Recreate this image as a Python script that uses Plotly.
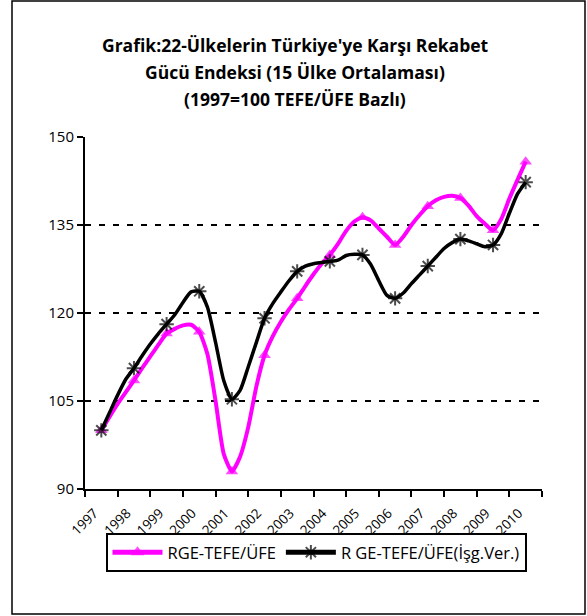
import plotly.graph_objects as go

years = [str(y) for y in range(1997, 2011)]

# quarterly values (first point of each year is the annual marker)
rge_tefe = [100, 102.3, 104.5, 106.5,
            108.5, 110.6, 112.6, 114.6,
            116.5, 117.3, 117.9, 118.0,
            116.8, 113.0, 105.0, 96.0,
            93.0, 95.5, 100.5, 107.5,
            112.8, 116.0, 118.5, 120.6,
            122.5, 124.6, 126.6, 128.4,
            129.9, 131.8, 134.0, 135.6,
            136.3, 135.8, 134.4, 133.0,
            131.6, 133.0, 135.0, 136.7,
            138.2, 139.2, 139.8, 140.0,
            139.6, 138.3, 136.5, 135.2,
            134.1, 136.0, 139.5, 142.7,
            145.8]

rge_isg = [100, 103.0, 106.0, 108.7,
           110.6, 112.7, 114.7, 116.5,
           118.1, 119.7, 121.8, 123.6,
           123.7, 121.0, 115.0, 108.5,
           105.3, 106.8, 110.8, 115.0,
           119.1, 121.6, 123.6, 125.5,
           127.1, 128.0, 128.4, 128.6,
           128.8, 129.0, 129.8, 130.0,
           129.9, 128.3, 125.5, 123.0,
           122.5, 123.4, 125.0, 126.5,
           128.0, 129.5, 131.0, 132.0,
           132.6, 132.3, 131.8, 131.3,
           131.6, 133.5, 137.0, 140.3,
           142.3]

series_names = ["RGE-TEFE/ÜFE", "R GE-TEFE/ÜFE(İşg.Ver.)"]
y_ticks = [90, 105, 120, 135, 150]
title_lines = ["Grafik:22-Ülkelerin Türkiye'ye Karşı Rekabet",
               "Gücü Endeksi (15 Ülke Ortalaması)",
               "(1997=100 TEFE/ÜFE Bazlı)"]

n = len(rge_tefe)
xpos = [i / 4 + 0.5 for i in range(n)]

def sizes(s):
    return [s if i % 4 == 0 else 0 for i in range(n)]

fig = go.Figure()
fig.add_trace(go.Scatter(
    x=xpos, y=rge_tefe, name=series_names[0], mode="lines+markers",
    line=dict(color="#FF00FF", width=4, shape="spline", smoothing=0.6),
    marker=dict(symbol="triangle-up", size=sizes(11), color="#FF00FF",
                line=dict(width=0)),
))
fig.add_trace(go.Scatter(
    x=xpos, y=rge_isg, name=series_names[1], mode="lines+markers",
    line=dict(color="black", width=3.5, shape="spline", smoothing=0.6),
    marker=dict(symbol="asterisk-open", size=sizes(12), color="black",
                line=dict(width=2, color="black")),
))

font_family = "Open Sans, DejaVu Sans, sans-serif"

L, R = 85, 542
T, B = 137, 489
W, H = 587, 616
pw, ph = R - L, B - T

def px_x(v):
    return (v - L) / pw

def px_y(v):
    return (B - v) / ph

title_font = dict(size=17.5, family=font_family, color="black")
annotations = []
for line, yc in zip(title_lines, [45, 72, 99]):
    annotations.append(dict(
        text="<b>" + line + "</b>", xref="paper", yref="paper",
        x=px_x(295), y=px_y(yc), xanchor="center", yanchor="middle",
        showarrow=False, font=title_font,
    ))

fig.update_layout(
    width=W, height=H,
    margin=dict(l=L, r=W - R, t=T, b=H - B, pad=0, autoexpand=False),
    paper_bgcolor="white", plot_bgcolor="white",
    font=dict(family=font_family, color="black", size=13),
    annotations=annotations,
    showlegend=True,
    legend=dict(
        orientation="h", x=px_x(316), xanchor="center", y=px_y(533), yanchor="top",
        bordercolor="black", borderwidth=2, bgcolor="white",
        font=dict(size=16.5, family=font_family, color="black"),
        itemsizing="constant", itemwidth=50, tracegroupgap=0,
    ),
    xaxis=dict(
        range=[0, 14], showgrid=False, zeroline=False,
        showline=True, linecolor="black", linewidth=2,
        tickmode="array", tickvals=[i + 0.5 for i in range(len(years))],
        ticktext=years, ticks="", tickangle=-45,
        ticklabelshift=-7, ticklabelstandoff=9,
        tickfont=dict(size=13.5, family=font_family, color="black"),
        minor=dict(tickmode="array", tickvals=list(range(len(years) + 1)),
                   ticks="outside", ticklen=6, tickwidth=2, tickcolor="black",
                   showgrid=False),
    ),
    yaxis=dict(
        range=[90, 150], tickmode="array", tickvals=y_ticks,
        showline=True, linecolor="black", linewidth=2,
        ticks="outside", ticklen=6, tickwidth=2, tickcolor="black",
        showgrid=True, gridcolor="black", gridwidth=2, griddash="6px,8px",
        zeroline=False,
        tickfont=dict(size=15, family=font_family, color="black"),
    ),
    shapes=[dict(type="rect", xref="paper", yref="paper",
                 x0=px_x(12), x1=px_x(585), y0=px_y(614), y1=px_y(1),
                 line=dict(color="black", width=1.5), fillcolor="rgba(0,0,0,0)",
                 layer="below")],
)

fig.write_html("out.html", config={"displayModeBar": False},
               post_script="document.body.style.margin='0';document.body.style.overflow='hidden';")
